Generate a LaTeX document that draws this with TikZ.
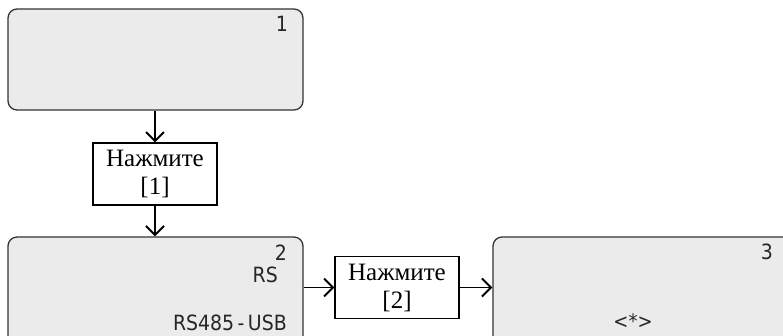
\documentclass[tikz,border=0pt]{standalone}
\usepackage{fontspec}
\setmainfont{Liberation Serif}
\newfontfamily\lblfont{DejaVu Sans Condensed}
\usetikzlibrary{arrows.meta}
\begin{document}
\begin{tikzpicture}[x=1pt,y=-1pt,
  screen/.style={draw=black!80,line width=1.3pt,fill=black!8,rounded corners=9pt},
  pressbox/.style={draw=black,line width=1.1pt,fill=white,minimum width=124pt,minimum height=62pt,inner sep=0pt,align=center,font=\fontsize{25}{28}\selectfont},
  lbl/.style={inner sep=0pt,font=\lblfont\fontsize{21}{24}\selectfont,text=black!85},
  small/.style={inner sep=0pt,font=\lblfont\fontsize{20}{22}\selectfont,text=black!85},
  flow/.style={line width=1.6pt,-{Straight Barb[length=9pt,width=18pt,line width=2pt]}}]
\useasboundingbox (0,0) rectangle (783,336);
\clip (0,0) rectangle (783,336);
% screens
\node[screen,minimum width=295pt,minimum height=101pt,inner sep=0pt] (s1) at (155.5,59.5) {};
\node[screen,minimum width=295pt,minimum height=110pt,inner sep=0pt] (s2) at (155.5,292) {};
\node[screen,minimum width=300pt,minimum height=110pt,inner sep=0pt] (s3) at (643,292) {};
% screen texts
\node[lbl,anchor=base east] (t1) at (288,32) {1};
\node[lbl,anchor=base east] (t2) at (287,261) {2};
\node[lbl,anchor=base east] (t2b) at (278,283) {RS};
\node[lbl,anchor=base east] (t2c) at (287,330) {RS485\,-\,USB};
\node[lbl,anchor=base east] (t3) at (773,259) {3};
\node[small,anchor=base] (t3b) at (633,328) {<*>};
% press boxes
\node[pressbox] (p1) at (155,174) {Нажмите\\{}[1]};
\node[pressbox] (p2) at (397,287.5) {Нажмите\\{}[2]};
% connectors
\draw[flow] (s1.south -| p1.north) -- (p1.north);
\draw[flow] (p1.south) -- (p1.south |- s2.north);
\draw[flow] (s2.east |- p2.west) -- (p2.west);
\draw[flow] (p2.east) -- (p2.east -| s3.west);
\end{tikzpicture}
\end{document}
